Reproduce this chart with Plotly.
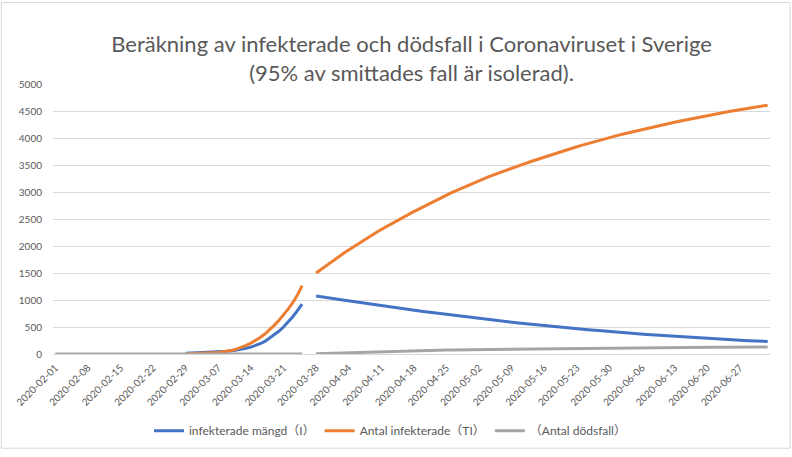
import pandas as pd
import plotly.graph_objects as go

# daily series, Feb 1 - Jul 3 2020 (no values on Mar 26-27)
start_date = "2020-02-01"
end_date = "2020-07-03"
early_start = "2020-02-29"   # first day of the early I / TI values
late_start = "2020-03-28"    # first day after the gap

names = ["infekterade mängd（I）", "Antal infekterade（TI）", "（Antal dödsfall）"]
colors = ["#4472C4", "#ED7D31", "#A5A5A5"]

# infekterade mängd (I)
infected_early = [12, 15, 18, 21, 24, 27, 31, 35, 42, 50, 60, 73, 88, 106, 128, 155,
                  190, 232, 290, 350, 420, 500, 590, 690, 805, 925]
infected_late = [1075, 1065, 1050, 1037, 1023, 1010, 997, 984, 970, 957, 944, 931, 918, 905,
                 893, 880, 868, 856, 842, 830, 820, 810, 799, 788, 777, 766, 755, 744, 733,
                 722, 711, 700, 690, 679, 668, 658, 648, 637, 627, 617, 607, 597, 588, 578,
                 569, 560, 551, 542, 533, 524, 515, 507, 499, 491, 483, 475, 467, 460, 453,
                 446, 439, 431, 424, 417, 410, 403, 396, 389, 382, 375, 368, 362, 356, 350,
                 344, 338, 332, 326, 320, 315, 309, 304, 299, 294, 289, 284, 279, 274, 269,
                 264, 259, 254, 250, 246, 242, 239, 236, 233]

# Antal infekterade (TI)
total_early = [5, 7, 10, 13, 17, 22, 26, 30, 40, 52, 70, 95, 125, 160, 200, 248,
               305, 370, 445, 530, 620, 720, 830, 950, 1090, 1265]
total_late = [1500, 1564, 1627, 1689, 1750, 1810, 1869, 1927, 1984, 2040,
              2095, 2149, 2202, 2254, 2305, 2355, 2404, 2452, 2499, 2545,
              2591, 2636, 2681, 2726, 2770, 2813, 2856, 2899, 2941, 2982,
              3022, 3061, 3100, 3137, 3174, 3210, 3245, 3280, 3313, 3346,
              3378, 3409, 3440, 3469, 3500, 3531, 3561, 3590, 3619, 3648,
              3676, 3704, 3731, 3758, 3785, 3812, 3838, 3864, 3889, 3915,
              3939, 3963, 3986, 4009, 4031, 4053, 4075, 4096, 4117, 4137,
              4157, 4177, 4197, 4216, 4235, 4254, 4273, 4292, 4310, 4328,
              4346, 4364, 4381, 4399, 4416, 4432, 4448, 4464, 4480, 4495,
              4510, 4525, 4540, 4554, 4568, 4581, 4595, 4608]

# Antal dödsfall
deaths_early = [0] * 54
deaths_late = [5, 8, 10, 12, 14, 16, 18, 20, 22, 25, 28, 30, 33, 36, 40, 44, 48, 52, 55,
               57, 59, 61, 63, 65, 67, 69, 71, 73, 75, 76, 77, 78, 80, 81, 82, 83, 84, 85,
               86, 87, 88, 89, 90, 91, 92, 93, 94, 95, 96, 97, 98, 99, 100, 102, 103, 104,
               105, 106, 107, 108, 108, 109, 110, 111, 112, 112, 113, 114, 115, 115, 116,
               117, 118, 118, 119, 120, 120, 121, 122, 122, 123, 123, 124, 124, 125, 125,
               126, 126, 127, 127, 128, 128, 128, 129, 129, 130, 130, 130]

dates = pd.date_range(start_date, end_date, freq="D")


def full_series(early_from, early, late):
    s = pd.Series([None] * len(dates), index=dates, dtype=object)
    s[pd.date_range(early_from, periods=len(early), freq="D")] = early
    s[pd.date_range(late_start, periods=len(late), freq="D")] = late
    return s.tolist()


series = [
    full_series(early_start, infected_early, infected_late),
    full_series(early_start, total_early, total_late),
    full_series(start_date, deaths_early, deaths_late),
]

fig = go.Figure()
for name, color, ys in zip(names, colors, series):
    fig.add_trace(go.Scatter(x=dates, y=ys, name=name, mode="lines",
                             line=dict(color=color, width=3), connectgaps=False))

font = "Lato, 'Noto Sans CJK SC', sans-serif"
txt = "#595959"

fig.update_layout(
    width=792, height=457,
    margin=dict(l=53, r=22, t=84, b=98),
    plot_bgcolor="white", paper_bgcolor="white",
    font=dict(family=font, color=txt, size=11),
    title=dict(text="Beräkning av infekterade och dödsfall i Coronaviruset i Sverige<br>"
                    "(95% av smittades fall är isolerad).",
               x=0.5, xref="paper", xanchor="center",
               y=0.886, yref="container", yanchor="middle",
               font=dict(size=22, color=txt, family=font)),
    legend=dict(orientation="h", x=0.47, xanchor="center", y=-0.284, yanchor="middle",
                font=dict(size=12, color=txt), itemwidth=30),
    showlegend=True,
)

fig.update_xaxes(
    type="date", automargin=False,
    range=["2020-01-31 12:00", "2020-07-03 12:00"],
    tick0=start_date, dtick=7 * 86400000, tickformat="%Y-%m-%d",
    tickangle=-45, tickfont=dict(size=10, color=txt), ticklabelstandoff=3,
    showgrid=False, showline=True, linecolor="#D9D9D9", ticks="",
)
fig.update_yaxes(
    range=[0, 5000], dtick=500, automargin=False, tickfont=dict(size=10, color=txt),
    ticklabelstandoff=10,
    showgrid=True, gridcolor="#D9D9D9", zeroline=False, ticks="",
)

# outer chart border
fig.add_shape(type="rect", xref="paper", yref="paper",
              x0=-0.072, x1=1.028, y0=-0.349, y1=1.302,
              line=dict(color="#D9D9D9", width=1), layer="below")

fig.write_html("out.html", config={"displayModeBar": False},
               post_script="document.body.style.margin='0';")
